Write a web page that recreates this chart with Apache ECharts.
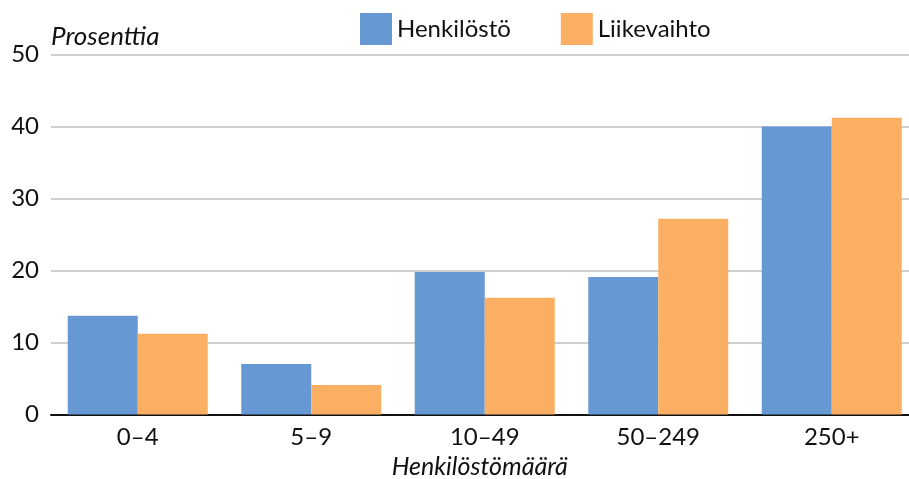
<!DOCTYPE html>
<html>
<head>
<meta charset="utf-8">
<script src="https://cdn.jsdelivr.net/npm/echarts@6/dist/echarts.min.js"></script>
<style>
  html, body { margin: 0; padding: 0; background: #fff; }
  #chart { width: 909px; height: 479px; }
</style>
</head>
<body>
<div id="chart"></div>
<script>
// luokat ja arvot (prosenttia)
var categories = ['0–4', '5–9', '10–49', '50–249', '250+'];
var henkilosto = [13.7, 7.0, 19.8, 19.1, 40.0];
var liikevaihto = [11.2, 4.1, 16.2, 27.2, 41.2];
var seriesNames = ['Henkilöstö', 'Liikevaihto'];

var font = 'Lato';
var myChart = echarts.init(document.getElementById('chart'));

var option = {
    animation: false,
    textStyle: { fontFamily: font },
    legend: {
        data: seriesNames,
        top: 8,
        left: 355,
        itemWidth: 32,
        itemHeight: 32,
        itemGap: 50,
        icon: 'rect',
        textStyle: { fontFamily: font, fontSize: 24, color: '#111' }
    },
    grid: { left: 51, right: -9.5, top: 54.5, bottom: 64.5, outerBoundsMode: 'none' },
    xAxis: {
        type: 'category',
        data: categories,
        name: 'Henkilöstömäärä',
        nameLocation: 'middle',
        nameGap: 40,
        nameTextStyle: { fontFamily: font, fontSize: 25, fontStyle: 'italic', color: '#111', padding: [0, 0, 0, -10] },
        axisTick: { show: false },
        axisLine: { lineStyle: { color: '#111', width: 2 } },
        axisLabel: { fontFamily: font, fontSize: 24, color: '#111', margin: 11 }
    },
    yAxis: {
        type: 'value',
        min: 0,
        max: 50,
        interval: 10,
        name: 'Prosenttia',
        nameLocation: 'end',
        nameGap: 5,
        nameTextStyle: { fontFamily: font, fontSize: 26, fontStyle: 'italic', color: '#111', align: 'left' },
        axisLine: { show: false },
        axisTick: { show: false },
        axisLabel: { fontFamily: font, fontSize: 24, color: '#111', margin: 12 },
        splitLine: { lineStyle: { color: '#bfbfbf', width: 1.5 } }
    },
    series: [
        {
            name: seriesNames[0],
            type: 'bar',
            data: henkilosto,
            barWidth: 70,
            barGap: '0%',
            itemStyle: { color: '#6699d3' }
        },
        {
            name: seriesNames[1],
            type: 'bar',
            data: liikevaihto,
            barWidth: 70,
            barGap: '0%',
            itemStyle: { color: '#fbaf63' }
        }
    ]
};

myChart.setOption(option);
</script>
</body>
</html>
